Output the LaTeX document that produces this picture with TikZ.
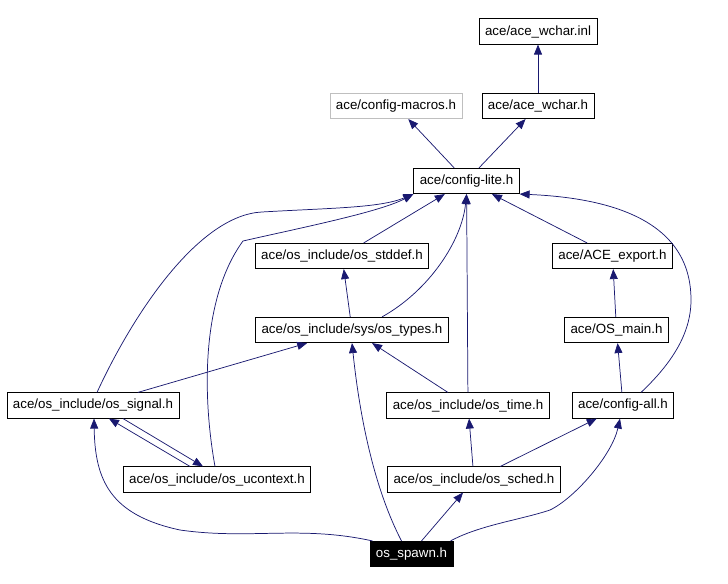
\documentclass[tikz,border=0pt]{standalone}
\usepackage{fontspec}
\setmainfont{Liberation Sans}
\usetikzlibrary{arrows.meta,calc}
\definecolor{edgeblue}{RGB}{25,25,112}
\begin{document}
\begin{tikzpicture}[x=0.75pt,y=-0.75pt,
    hdr/.style={draw=black,line width=0.6pt,fill=white,inner xsep=4.5pt,inner ysep=0pt,
                minimum height=19pt,font=\fontsize{10}{12}\selectfont},
    hdrgray/.style={hdr,draw={rgb,255:red,191;green,191;blue,191}},
    hdrmain/.style={hdr,fill=black,text=white},
    incl/.style={draw=edgeblue,line width=0.55pt,-{Triangle[length=7.5pt,width=6pt]}}]
            \useasboundingbox (0,0) rectangle (728,584);
            
            % Marking headers by boxes
            \node [hdr] (inl) at (538,31.5) {ace/ace\_wchar.inl};%
            \node [hdr] (wchar) at (538,106) {ace/ace\_wchar.h};%
            \node [hdrgray] (macros) at (396,106) {ace/config-macros.h};%
            \node [hdr] (lite) at (466.5,181) {ace/config-lite.h};%
            \node [hdr] (stddef) at (342,256) {ace/os\_include/os\_stddef.h};%
            \node [hdr] (export) at (612.5,256) {ace/ACE\_export.h};%
            \node [hdr] (types) at (352,330) {ace/os\_include/sys/os\_types.h};%
            \node [hdr] (osmain) at (616.5,330) {ace/OS\_main.h};%
            \node [hdr] (signal) at (93,405.5) {ace/os\_include/os\_signal.h};%
            \node [hdr] (time) at (468,405.5) {ace/os\_include/os\_time.h};%
            \node [hdr] (cfgall) at (623,405.5) {ace/config-all.h};%
            \node [hdr] (ucontext) at (217,479.5) {ace/os\_include/os\_ucontext.h};%
            \node [hdr] (sched) at (474,479.5) {ace/os\_include/os\_sched.h};%
            \node [hdrmain] (spawn) at (411.5,554) {os\_spawn.h};%
            
            % Drawing straight includes
            \draw [incl] (wchar) -- (inl);%
            \draw [incl] (lite) -- (macros);%
            \draw [incl] (lite) -- (wchar);%
            \draw [incl] (stddef) -- (lite);%
            \draw [incl] (types) -- (stddef);%
            \draw [incl] (time) -- (types);%
            \draw [incl] (time) -- (lite);%
            \draw [incl] (export) -- (lite);%
            \draw [incl] (osmain) -- (export);%
            \draw [incl] (cfgall) -- (osmain);%
            \draw [incl] (signal) -- (types);%
            \draw [incl] (sched) -- (time);%
            \draw [incl] (sched) -- (cfgall);%
            \draw [incl] ($(spawn.north)+(10,0)$) -- ($(sched.south)+(-11,0)$);%
            
            % Drawing signal ucontext both ways
            \draw [incl] ($(ucontext.north)+(-27,0)$) -- ($(signal.south)+(16,0)$);%
            \draw [incl] ($(signal.south)+(30,0)$) -- ($(ucontext.north)+(-14,0)$);%
            
            % Drawing curved includes of config-lite
            \draw [incl] ($(types.north)+(30,0)$) .. controls (430,290) and (462,240) .. (lite.south);%
            \draw [incl] ($(cfgall.north)+(18,0)$) .. controls (670,365) and (691,335) .. (691,300)
                .. controls (691,220) and (610,198) .. (lite.south east);%
            \draw [incl] ($(signal.north)+(4,0)$) .. controls (135,310) and (200,215) .. (262,212)
                .. controls (330,208) and (380,208) .. (lite.south west);%
            \draw [incl] ($(ucontext.north)+(-2,0)$) .. controls (203,400) and (200,300) .. (243,241)
                .. controls (300,228) and (380,212) .. (lite.south west);%
            
            % Drawing curved includes of os_spawn
            \draw [incl] ($(spawn.north west)+(3,0)$) .. controls (300,525) and (250,540) .. (180,530)
                .. controls (110,515) and (95,480) .. ($(signal.south)+(1,0)$);%
            \draw [incl] ($(spawn.north)+(-10,0)$) .. controls (375,490) and (360,420) .. (types.south);%
            \draw [incl] ($(spawn.north east)+(-3,0)$) .. controls (480,525) and (520,520) .. (550,510)
                .. controls (575,498) and (612,455) .. ($(cfgall.south)+(-3,0)$);%
        \end{tikzpicture}
\end{document}
